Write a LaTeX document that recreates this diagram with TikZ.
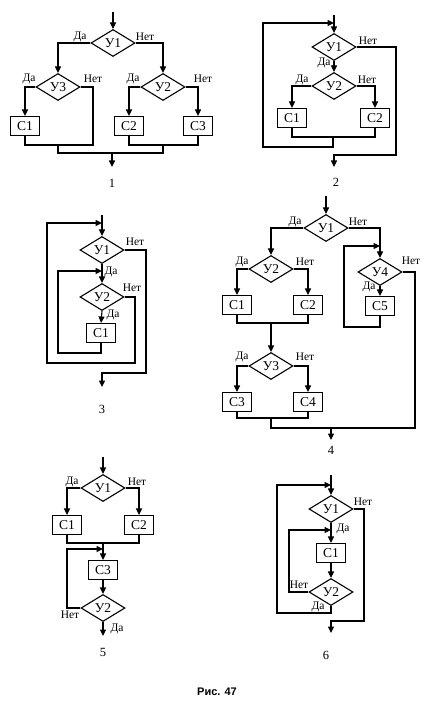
\documentclass[tikz,border=0pt]{standalone}
\usepackage{fontspec}
\setmainfont{Liberation Serif}
\newfontfamily\capfont{Liberation Sans}
\usetikzlibrary{arrows.meta}
\usetikzlibrary{shapes.geometric}

\begin{document}
\begin{tikzpicture}[x=1pt,y=-1pt,
        line/.style={line width=1.1pt},
        arr/.style={line, -{Stealth[length=6.5pt,width=6pt,inset=0pt]}},
        cond/.style={diamond, draw, line width=1.1pt, minimum width=44pt, minimum height=27pt, inner sep=0pt, font=\fontsize{13.5}{15}\selectfont},
        proc/.style={rectangle, draw, line width=1.1pt, minimum width=29pt, minimum height=19pt, inner sep=0pt, font=\fontsize{13.5}{15}\selectfont},
        lbl/.style={inner sep=0pt, font=\fontsize{11.5}{13}\selectfont},
        num/.style={inner sep=0pt, font=\fontsize{12.5}{14}\selectfont}]
        \useasboundingbox (0,0) rectangle (432,708);

        % 1
        \node[cond] (p1u1) at (113,43) {У1};
        \node[cond] (p1u3) at (58,87) {У3};
        \node[cond] (p1u2) at (163,87) {У2};
        \node[proc] (p1c1) at (25,126) {С1};
        \node[proc] (p1c2) at (129,126) {С2};
        \node[proc] (p1c3) at (198,126) {С3};
        \coordinate (p1in) at (113,12);
        \coordinate (p1r) at (93,145);
        \coordinate (p1m1) at (58,145);
        \coordinate (p1m2) at (163,145);
        \coordinate (p1j) at (112,153);
        \coordinate (p1out) at (112,167);
        \draw[arr] (p1in) -- (p1u1.north);
        \draw[arr] (p1u1.west) -| (p1u3.north);
        \draw[arr] (p1u1.east) -| (p1u2.north);
        \draw[arr] (p1u3.west) -| (p1c1.north);
        \draw[arr] (p1u2.west) -| (p1c2.north);
        \draw[arr] (p1u2.east) -| (p1c3.north);
        \draw[line] (p1u3.east) -| (p1r) -| (p1c1.south);
        \draw[line] (p1c2.south) |- (p1m2) -| (p1c3.south);
        \draw[line] (p1m1) |- (p1j) -| (p1m2);
        \draw[arr] (p1j) -- (p1out);
        \node[lbl] (p1t1) at (80,37) {Да};
        \node[lbl] (p1t2) at (145,37) {Нет};
        \node[lbl] (p1t3) at (29,79) {Да};
        \node[lbl] (p1t4) at (93,79) {Нет};
        \node[lbl] (p1t5) at (133,79) {Да};
        \node[lbl] (p1t6) at (203,79) {Нет};
        \node[num] (p1n) at (112,183) {1};

        % 2
        \node[cond] (p2u1) at (334,47) {У1};
        \node[cond] (p2u2) at (334,86) {У2};
        \node[proc] (p2c1) at (292,118) {С1};
        \node[proc] (p2c2) at (375,118) {С2};
        \coordinate (p2in) at (334,15);
        \coordinate (p2lp) at (334,23);
        \coordinate (p2m) at (333,137);
        \coordinate (p2l) at (263,147);
        \coordinate (p2r) at (396,155);
        \coordinate (p2out) at (334,167);
        \draw[arr] (p2in) -- (p2u1.north);
        \draw[arr] (p2u1.south) -- (p2u2.north);
        \draw[arr] (p2u2.west) -| (p2c1.north);
        \draw[arr] (p2u2.east) -| (p2c2.north);
        \draw[line] (p2c1.south) |- (p2m) -| (p2c2.south);
        \draw[arr] (p2m) |- (p2l) |- (p2lp);
        \draw[arr] (p2u1.east) -| (p2r) -| (p2out);
        \node[lbl] (p2t1) at (368,41) {Нет};
        \node[lbl] (p2t2) at (324,63) {Да};
        \node[lbl] (p2t3) at (302,80) {Да};
        \node[lbl] (p2t4) at (367,80) {Нет};
        \node[num] (p2n) at (336,182) {2};

        % 3
        \node[cond] (p3u1) at (102,250) {У1};
        \node[cond] (p3u2) at (102,297) {У2};
        \node[proc] (p3c1) at (101,333) {С1};
        \coordinate (p3in) at (102,215);
        \coordinate (p3lp) at (102,223);
        \coordinate (p3ilp) at (102,271);
        \coordinate (p3il) at (58,353);
        \coordinate (p3or) at (135,363);
        \coordinate (p3ol) at (47,363);
        \coordinate (p3r) at (146,373);
        \coordinate (p3out) at (102,387);
        \draw[arr] (p3in) -- (p3u1.north);
        \draw[arr] (p3u1.south) -- (p3u2.north);
        \draw[arr] (p3u2.south) -- (p3c1.north);
        \draw[arr] (p3c1.south) |- (p3il) |- (p3ilp);
        \draw[arr] (p3u2.east) -| (p3or) -- (p3ol) |- (p3lp);
        \draw[arr] (p3u1.east) -| (p3r) -| (p3out);
        \node[lbl] (p3t1) at (135,242) {Нет};
        \node[lbl] (p3t2) at (111,272) {Да};
        \node[lbl] (p3t3) at (132,288) {Нет};
        \node[lbl] (p3t4) at (113,315) {Да};
        \node[num] (p3n) at (102,409) {3};

        % 4
        \node[cond] (p4u1) at (326,228) {У1};
        \node[cond] (p4u2) at (271,269) {У2};
        \node[proc] (p4c1) at (237,305) {С1};
        \node[proc] (p4c2) at (308,305) {С2};
        \node[cond] (p4u3) at (271,366) {У3};
        \node[proc] (p4c3) at (237,402) {С3};
        \node[proc] (p4c4) at (308,402) {С4};
        \node[cond] (p4u4) at (380,272) {У4};
        \node[proc] (p4c5) at (380,306) {С5};
        \coordinate (p4in) at (326,196);
        \coordinate (p4m1) at (271,323);
        \coordinate (p4m2) at (271,418);
        \coordinate (p4r) at (415,428);
        \coordinate (p4j) at (331,428);
        \coordinate (p4out) at (331,440);
        \coordinate (p4l) at (344,327);
        \coordinate (p4lp) at (380,246);
        \draw[arr] (p4in) -- (p4u1.north);
        \draw[arr] (p4u1.west) -| (p4u2.north);
        \draw[arr] (p4u1.east) -| (p4u4.north);
        \draw[arr] (p4u2.west) -| (p4c1.north);
        \draw[arr] (p4u2.east) -| (p4c2.north);
        \draw[line] (p4c1.south) |- (p4m1) -| (p4c2.south);
        \draw[arr] (p4m1) -- (p4u3.north);
        \draw[arr] (p4u3.west) -| (p4c3.north);
        \draw[arr] (p4u3.east) -| (p4c4.north);
        \draw[line] (p4c3.south) |- (p4m2) -| (p4c4.south);
        \draw[line] (p4u4.east) -| (p4r) -| (p4m2);
        \draw[arr] (p4j) -- (p4out);
        \draw[arr] (p4u4.south) -- (p4c5.north);
        \draw[arr] (p4c5.south) |- (p4l) |- (p4lp);
        \node[lbl] (p4t1) at (295,222) {Да};
        \node[lbl] (p4t2) at (358,222) {Нет};
        \node[lbl] (p4t3) at (242,262) {Да};
        \node[lbl] (p4t4) at (305,262) {Нет};
        \node[lbl] (p4t5) at (242,357) {Да};
        \node[lbl] (p4t6) at (305,357) {Нет};
        \node[lbl] (p4t7) at (411,261) {Нет};
        \node[lbl] (p4t8) at (369,287) {Да};
        \node[num] (p4n) at (331,450) {4};

        % 5
        \node[cond] (p5u1) at (103,488) {У1};
        \node[proc] (p5c1) at (67,525) {С1};
        \node[proc] (p5c2) at (139,525) {С2};
        \node[proc] (p5c3) at (103,570) {С3};
        \node[cond] (p5u2) at (103,608) {У2};
        \coordinate (p5in) at (103,457);
        \coordinate (p5m) at (103,543);
        \coordinate (p5lp) at (103,549);
        \coordinate (p5l) at (67,549);
        \coordinate (p5out) at (103,636);
        \draw[arr] (p5in) -- (p5u1.north);
        \draw[arr] (p5u1.west) -| (p5c1.north);
        \draw[arr] (p5u1.east) -| (p5c2.north);
        \draw[line] (p5c1.south) |- (p5m) -| (p5c2.south);
        \draw[arr] (p5m) -- (p5c3.north);
        \draw[arr] (p5c3.south) -- (p5u2.north);
        \draw[arr] (p5u2.west) -| (p5l) -- (p5lp);
        \draw[arr] (p5u2.south) -- (p5out);
        \node[lbl] (p5t1) at (72,482) {Да};
        \node[lbl] (p5t2) at (137,482) {Нет};
        \node[lbl] (p5t3) at (70,615) {Нет};
        \node[lbl] (p5t4) at (117,629) {Да};
        \node[num] (p5n) at (103,652) {5};

        % 6
        \node[cond] (p6u1) at (331,509) {У1};
        \node[proc] (p6c1) at (331,553) {С1};
        \node[cond] (p6u2) at (331,592) {У2};
        \coordinate (p6in) at (331,475);
        \coordinate (p6lp) at (331,485);
        \coordinate (p6ilp) at (331,530);
        \coordinate (p6il) at (289,530);
        \coordinate (p6ol) at (277,613);
        \coordinate (p6r) at (364,621);
        \coordinate (p6out) at (331,633);
        \draw[arr] (p6in) -- (p6u1.north);
        \draw[arr] (p6u1.south) -- (p6c1.north);
        \draw[arr] (p6c1.south) -- (p6u2.north);
        \draw[arr] (p6u2.west) -| (p6il) -- (p6ilp);
        \draw[arr] (p6u2.south) |- (p6ol) |- (p6lp);
        \draw[arr] (p6u1.east) -| (p6r) -| (p6out);
        \node[lbl] (p6t1) at (363,502) {Нет};
        \node[lbl] (p6t2) at (343,529) {Да};
        \node[lbl] (p6t3) at (299,585) {Нет};
        \node[lbl] (p6t4) at (318,607) {Да};
        \node[num] (p6n) at (326,655) {6};

        \node[inner sep=0pt, font=\capfont\bfseries\fontsize{11}{13}\selectfont] (cap) at (217,692) {Рис. 47};
\end{tikzpicture}
\end{document}
